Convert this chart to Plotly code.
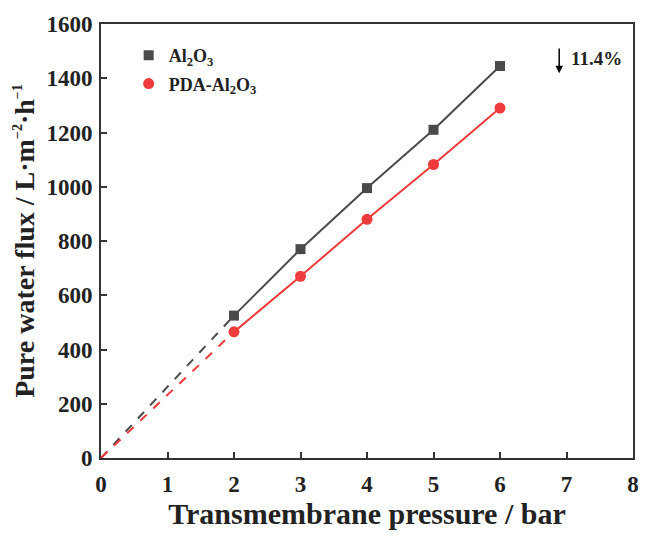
import plotly.graph_objects as go

pressure = [2, 3, 4, 5, 6]
flux_al2o3 = [525, 770, 995, 1210, 1445]
flux_pda = [465, 670, 880, 1082, 1290]
origin_x = [0]
origin_y = [0]

gray = "#4a4a4a"
red = "#ee3b3b"
font = "Liberation Serif"
pad = "\u00a0\u00a0\u00a0"

fig = go.Figure()
# dashed extrapolation to origin
fig.add_trace(go.Scatter(x=origin_x + pressure[:1], y=origin_y + flux_al2o3[:1], mode="lines",
                         line=dict(color=gray, width=2, dash="dash"), showlegend=False))
fig.add_trace(go.Scatter(x=origin_x + pressure[:1], y=origin_y + flux_pda[:1], mode="lines",
                         line=dict(color=red, width=2, dash="dash"), showlegend=False))
# solid lines
fig.add_trace(go.Scatter(x=pressure, y=flux_al2o3, mode="lines",
                         line=dict(color=gray, width=2), showlegend=False))
fig.add_trace(go.Scatter(x=pressure, y=flux_pda, mode="lines",
                         line=dict(color=red, width=2), showlegend=False))
# markers
fig.add_trace(go.Scatter(x=pressure, y=flux_al2o3, mode="markers", name="Al<sub>2</sub>O<sub>3</sub>",
                         legendgroup="a",
                         marker=dict(symbol="square", size=10, color=gray)))
fig.add_trace(go.Scatter(x=pressure, y=flux_pda, mode="markers", name="PDA-Al<sub>2</sub>O<sub>3</sub>",
                         legendgroup="b",
                         marker=dict(symbol="circle", size=11, color=red)))

fig.add_annotation(x=6.89, y=1418, ax=6.89, ay=1515, xref="x", yref="y", axref="x", ayref="y",
                   text="", showarrow=True, arrowhead=2, arrowsize=1, arrowwidth=1.5, arrowcolor="black")
fig.add_annotation(x=7.03, y=1472, xref="x", yref="y", text="11.4%", showarrow=False,
                   xanchor="left", font=dict(family=font, size=19, color="#222", weight="bold"))

axis_common = dict(showline=True, linewidth=2, linecolor="#333", mirror=True, ticks="inside",
                   ticklen=6, tickwidth=2, tickcolor="#333", showgrid=False, zeroline=False,
                   tickfont=dict(family=font, size=23, color="#222", weight="bold"))
fig.update_xaxes(range=[0, 8], dtick=1, ticklabelstandoff=4,
                 title=dict(text=pad + "Transmembrane pressure / bar", standoff=6,
                            font=dict(family=font, size=30, color="#222", weight="bold")), **axis_common)
fig.update_yaxes(range=[0, 1600], dtick=200, ticklabelstandoff=2,
                 title=dict(text="Pure water flux / L·m<sup><span style='font-size:14px'>−2</span></sup>·h<sup><span style='font-size:14px'>−1</span></sup>" + pad,
                            standoff=4,
                            font=dict(family=font, size=28, color="#222", weight="bold")), **axis_common)

fig.update_layout(width=651, height=536, margin=dict(l=101, r=14, t=18, b=77),
                  plot_bgcolor="white", paper_bgcolor="white",
                  legend=dict(x=0.052, y=0.97, xanchor="left", yanchor="top", bgcolor="rgba(0,0,0,0)",
                              traceorder="grouped", tracegroupgap=2,
                              font=dict(family=font, size=18, color="#222", weight="bold")),
                  font=dict(family=font))
fig.write_html("out.html")
